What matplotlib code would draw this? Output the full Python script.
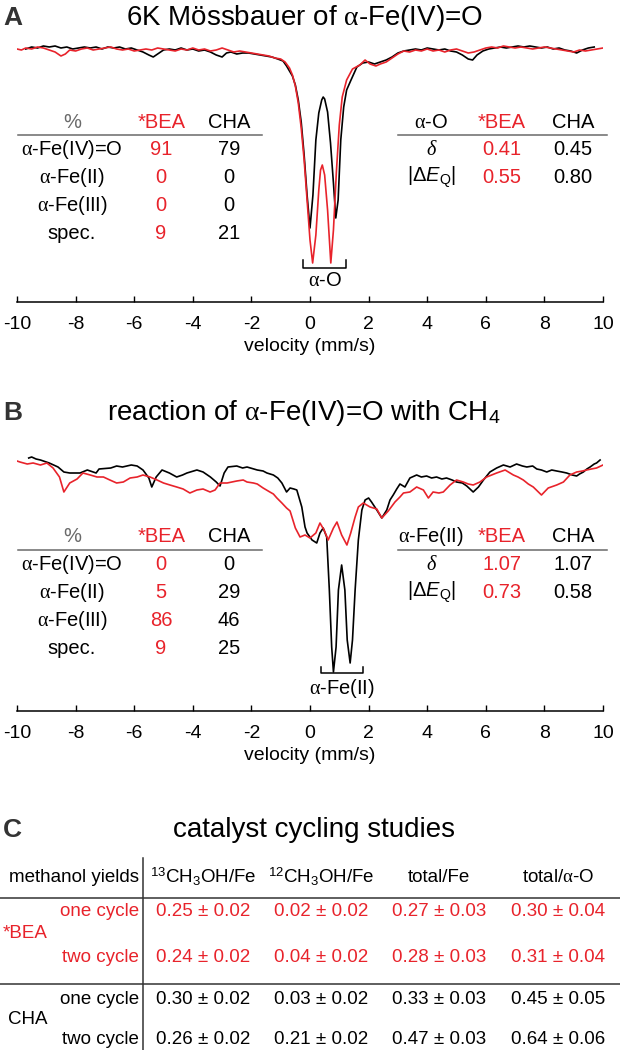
import matplotlib
matplotlib.use('Agg')
import matplotlib.pyplot as plt
from matplotlib.lines import Line2D

# --- data --------------------------------------------------------------
# panel A: 6K Moessbauer, velocity (mm/s) vs relative transmission
a_v_cha = [-9.7, -9.5, -9.3, -9.1, -8.9, -8.7, -8.5, -8.3, -8.1, -7.9, -7.7, -7.5, -7.3, -7.1,
           -6.9, -6.7, -6.5, -6.3, -6.1, -5.9, -5.7, -5.5, -5.35, -5.2, -5.0, -4.8, -4.6, -4.4,
           -4.2, -4.0, -3.8, -3.6, -3.4, -3.2, -3.0, -2.85, -2.7, -2.5, -2.3, -2.1, -1.9, -1.7,
           -1.5, -1.3, -1.1, -0.92, -0.8, -0.7, -0.6, -0.5, -0.4, -0.3, -0.2, -0.1, 0.0, 0.1,
           0.2, 0.3, 0.4, 0.45, 0.5, 0.6, 0.7, 0.8, 0.88, 0.96, 1.05, 1.15, 1.25, 1.4, 1.6, 1.8,
           2.0, 2.2, 2.4, 2.6, 2.8, 3.0, 3.2, 3.4, 3.6, 3.8, 4.0, 4.2, 4.4, 4.6, 4.8, 5.0, 5.2,
           5.4, 5.55, 5.7, 5.9, 6.1, 6.3, 6.5, 6.7, 6.9, 7.1, 7.3, 7.5, 7.7, 7.9, 8.1, 8.3, 8.5,
           8.7, 8.9, 9.1, 9.3, 9.5, 9.7]
a_t_cha = [1.001, 1.003, 1.002, 1.004, 1.003, 1.004, 1.002, 1.003, 1.001, 1.002, 1.003, 1.002,
           1.003, 1.001, 1.003, 1.002, 1.003, 1.001, 1.002, 1.000, 0.998, 0.995, 0.993, 0.996,
           1.000, 1.001, 1.000, 1.002, 1.000, 1.001, 0.999, 1.000, 0.998, 0.995, 0.993, 0.997,
           0.998, 0.996, 0.997, 0.997, 0.996, 0.995, 0.994, 0.993, 0.991, 0.989, 0.984, 0.979,
           0.974, 0.965, 0.950, 0.928, 0.895, 0.855, 0.822, 0.855, 0.910, 0.937, 0.950, 0.953,
           0.951, 0.938, 0.907, 0.867, 0.832, 0.850, 0.910, 0.943, 0.960, 0.970, 0.983, 0.987,
           0.988, 0.986, 0.988, 0.990, 0.993, 0.997, 0.999, 1.000, 1.001, 1.000, 1.002, 1.001,
           1.000, 1.001, 0.999, 0.998, 0.995, 0.991, 0.990, 0.995, 0.999, 1.001, 1.002, 1.003,
           1.002, 1.003, 1.004, 1.003, 1.004, 1.003, 1.002, 1.003, 1.001, 1.002, 1.000, 0.999,
           0.997, 1.000, 1.002, 1.003]
a_v_bea = [-10.0, -9.85, -9.7, -9.5, -9.3, -9.1, -8.9, -8.7, -8.5, -8.35, -8.2, -8.0, -7.8, -7.6,
           -7.4, -7.2, -7.0, -6.8, -6.6, -6.4, -6.2, -6.0, -5.8, -5.6, -5.4, -5.2, -5.0, -4.8,
           -4.6, -4.4, -4.2, -4.0, -3.8, -3.6, -3.4, -3.2, -3.0, -2.8, -2.6, -2.4, -2.2, -2.0,
           -1.8, -1.6, -1.4, -1.2, -1.0, -0.85, -0.7, -0.6, -0.5, -0.4, -0.3, -0.2, -0.1, 0.0,
           0.09, 0.2, 0.3, 0.36, 0.42, 0.5, 0.6, 0.71, 0.8, 0.9, 1.0, 1.1, 1.25, 1.45, 1.7, 1.88,
           2.05, 2.25, 2.4, 2.6, 2.8, 3.0, 3.2, 3.4, 3.6, 3.8, 4.0, 4.2, 4.4, 4.6, 4.8, 5.0, 5.2,
           5.4, 5.6, 5.8, 6.0, 6.2, 6.4, 6.6, 6.8, 7.0, 7.2, 7.4, 7.6, 7.8, 8.0, 8.2, 8.4, 8.6,
           8.8, 9.0, 9.2, 9.4, 9.6, 9.8, 10.0]
a_t_bea = [1.001, 1.000, 1.002, 1.001, 1.003, 1.002, 1.000, 0.998, 0.994, 0.996, 1.000, 0.999,
           1.001, 1.002, 1.000, 1.001, 1.002, 1.003, 1.001, 1.000, 1.001, 0.999, 1.000, 1.001,
           1.000, 1.002, 1.001, 1.000, 0.999, 1.001, 1.000, 1.002, 1.000, 1.001, 0.999, 1.000,
           1.002, 1.000, 0.998, 0.999, 0.998, 0.997, 0.996, 0.995, 0.994, 0.992, 0.991, 0.988,
           0.982, 0.975, 0.964, 0.947, 0.922, 0.890, 0.850, 0.810, 0.787, 0.815, 0.860, 0.880,
           0.885, 0.875, 0.840, 0.787, 0.820, 0.878, 0.925, 0.953, 0.970, 0.981, 0.985, 0.990,
           0.986, 0.984, 0.986, 0.988, 0.992, 0.996, 0.999, 0.998, 1.000, 0.999, 1.001, 0.999,
           1.000, 0.998, 1.000, 1.001, 0.999, 0.997, 0.998, 1.000, 1.002, 1.003, 1.002, 1.004,
           1.003, 1.002, 1.003, 1.002, 1.001, 1.002, 1.003, 1.002, 1.001, 1.000, 0.999, 0.998,
           1.000, 0.999, 1.000, 1.001, 1.002]

# panel B: after reaction with CH4
b_v_cha = [-9.6, -9.5, -9.35, -9.2, -8.9, -8.6, -8.4, -8.2, -7.85, -7.6, -7.3, -7.2, -6.8, -6.6,
           -6.4, -6.1, -5.9, -5.7, -5.5, -5.4, -5.25, -5.05, -4.8, -4.55, -4.35, -4.2, -3.86,
           -3.65, -3.4, -3.2, -3.07, -2.93, -2.8, -2.5, -2.3, -2.15, -1.8, -1.6, -1.47, -1.25,
           -1.1, -0.96, -0.8, -0.68, -0.55, -0.45, -0.35, -0.28, -0.17, -0.1, 0.07, 0.23, 0.34,
           0.45, 0.57, 0.66, 0.74, 0.8, 0.89, 0.97, 1.08, 1.19, 1.27, 1.37, 1.45, 1.54, 1.65,
           1.77, 1.88, 2.0, 2.1, 2.28, 2.45, 2.62, 2.73, 2.84, 2.96, 3.07, 3.24, 3.41, 3.64, 3.8,
           3.98, 4.15, 4.32, 4.5, 4.66, 4.85, 5.0, 5.2, 5.35, 5.57, 5.75, 5.92, 6.14, 6.37, 6.6,
           6.83, 7.05, 7.25, 7.4, 7.6, 7.74, 7.9, 8.08, 8.25, 8.42, 8.6, 8.76, 8.95, 9.1, 9.2,
           9.33, 9.45, 9.56, 9.7, 9.78, 9.9]
b_t_cha = [1.002, 1.003, 1.001, 1.000, 0.997, 0.993, 0.988, 0.987, 0.987, 0.990, 0.987, 0.991,
           0.992, 0.994, 0.993, 0.995, 0.994, 0.990, 0.982, 0.973, 0.983, 0.990, 0.987, 0.983,
           0.985, 0.987, 0.990, 0.988, 0.983, 0.978, 0.974, 0.987, 0.993, 0.994, 0.992, 0.993,
           0.990, 0.989, 0.987, 0.985, 0.982, 0.977, 0.968, 0.972, 0.971, 0.970, 0.960, 0.953,
           0.933, 0.927, 0.920, 0.917, 0.927, 0.932, 0.923, 0.870, 0.813, 0.788, 0.813, 0.870,
           0.895, 0.870, 0.820, 0.797, 0.820, 0.870, 0.920, 0.950, 0.960, 0.962, 0.958, 0.950,
           0.942, 0.950, 0.960, 0.965, 0.971, 0.976, 0.973, 0.982, 0.985, 0.983, 0.984, 0.982,
           0.983, 0.981, 0.982, 0.980, 0.978, 0.977, 0.974, 0.968, 0.973, 0.980, 0.988, 0.992,
           0.995, 0.993, 0.996, 0.994, 0.993, 0.994, 0.991, 0.990, 0.988, 0.990, 0.989, 0.988,
           0.987, 0.985, 0.984, 0.986, 0.988, 0.991, 0.993, 0.996, 0.997, 1.000]
b_v_bea = [-10.0, -9.9, -9.65, -9.45, -9.2, -8.98, -8.77, -8.55, -8.4, -8.2, -7.95, -7.75, -7.5,
           -7.27, -7.05, -6.83, -6.6, -6.37, -6.14, -5.9, -5.7, -5.46, -5.22, -5.0, -4.78, -4.55,
           -4.33, -4.1, -3.86, -3.65, -3.41, -3.24, -3.07, -2.83, -2.5, -2.28, -2.15, -1.93,
           -1.8, -1.6, -1.37, -1.25, -1.13, -0.96, -0.8, -0.68, -0.5, -0.34, -0.17, 0.0, 0.2,
           0.34, 0.48, 0.62, 0.8, 0.92, 1.08, 1.26, 1.39, 1.54, 1.65, 1.82, 2.05, 2.28, 2.45,
           2.67, 2.9, 3.07, 3.19, 3.41, 3.64, 3.87, 4.04, 4.2, 4.4, 4.55, 4.78, 5.0, 5.23, 5.4,
           5.57, 5.8, 6.03, 6.37, 6.66, 6.94, 7.1, 7.28, 7.45, 7.62, 7.9, 8.13, 8.42, 8.65, 8.87,
           9.1, 9.3, 9.44, 9.6, 9.78, 10.0]
b_t_bea = [0.999, 0.998, 0.996, 0.997, 0.995, 0.997, 0.992, 0.983, 0.968, 0.977, 0.981, 0.987,
           0.985, 0.983, 0.983, 0.980, 0.977, 0.978, 0.982, 0.983, 0.985, 0.983, 0.980, 0.977,
           0.975, 0.973, 0.971, 0.967, 0.970, 0.971, 0.968, 0.970, 0.977, 0.977, 0.979, 0.980,
           0.978, 0.977, 0.976, 0.972, 0.968, 0.966, 0.962, 0.957, 0.952, 0.949, 0.932, 0.923,
           0.925, 0.922, 0.927, 0.937, 0.930, 0.920, 0.932, 0.938, 0.925, 0.915, 0.927, 0.943,
           0.953, 0.957, 0.953, 0.951, 0.942, 0.949, 0.958, 0.963, 0.967, 0.968, 0.973, 0.970,
           0.962, 0.968, 0.967, 0.968, 0.975, 0.980, 0.978, 0.976, 0.975, 0.978, 0.983, 0.987,
           0.990, 0.985, 0.983, 0.980, 0.976, 0.973, 0.965, 0.972, 0.975, 0.978, 0.985, 0.988,
           0.989, 0.990, 0.991, 0.992, 0.995]

# fit tables
pct_rows = ['$\\alpha$-Fe(IV)=O', '$\\alpha$-Fe(II)', '$\\alpha$-Fe(III)', 'spec.']
a_pct_bea = ['91', '0', '0', '9']
a_pct_cha = ['79', '0', '0', '21']
b_pct_bea = ['0', '5', '86', '9']
b_pct_cha = ['0', '29', '46', '25']
param_rows = ['$\\mathit{\\delta}$', '|Δ$\\mathsf{E}_{\\mathbf{Q}}$|']
a_par_bea = ['0.41', '0.55']
a_par_cha = ['0.45', '0.80']
b_par_bea = ['1.07', '0.73']
b_par_cha = ['1.07', '0.58']

# panel C: methanol yields
c_cols = ['$^{\\mathbf{13}}$CH$_{\\mathbf{3}}$OH/Fe', '$^{\\mathbf{12}}$CH$_{\\mathbf{3}}$OH/Fe',
          'total/Fe', 'total/$\\alpha$-O']
c_cycles = ['one cycle', 'two cycle']
c_bea = [['0.25 ± 0.02', '0.02 ± 0.02', '0.27 ± 0.03', '0.30 ± 0.04'],
         ['0.24 ± 0.02', '0.04 ± 0.02', '0.28 ± 0.03', '0.31 ± 0.04']]
c_cha = [['0.30 ± 0.02', '0.03 ± 0.02', '0.33 ± 0.03', '0.45 ± 0.05'],
         ['0.26 ± 0.02', '0.21 ± 0.02', '0.47 ± 0.03', '0.64 ± 0.06']]

# --- style -------------------------------------------------------------
plt.rcParams['font.family'] = ['Liberation Sans', 'DejaVu Sans']
plt.rcParams['mathtext.fontset'] = 'custom'
plt.rcParams['mathtext.rm'] = 'Liberation Serif'
plt.rcParams['mathtext.it'] = 'Liberation Serif:italic'
plt.rcParams['mathtext.sf'] = 'Liberation Sans:italic'
plt.rcParams['mathtext.bf'] = 'Liberation Sans'  # upright sans for sub/superscripts
plt.rcParams['mathtext.default'] = 'rm'
plt.rcParams['axes.unicode_minus'] = False

RED = '#e8232b'
GREY = '#6a6a6a'
W, H = 620, 1050
TAB = 14.5   # table text size

fig = plt.figure(figsize=(W / 100, H / 100), dpi=100)


def put(x, y, s, size=TAB, color='k', ha='center', **kw):
    fig.text(x / W, 1 - y / H, s, fontsize=size, color=color, ha=ha, va='center', **kw)


def hline(x0, x1, y, color=GREY, lw=1.1):
    fig.add_artist(Line2D([x0 / W, x1 / W], [1 - y / H] * 2, transform=fig.transFigure,
                          color=color, lw=lw))


def vline(x, y0, y1, color='#333333', lw=1.1):
    fig.add_artist(Line2D([x / W] * 2, [1 - y0 / H, 1 - y1 / H], transform=fig.transFigure,
                          color=color, lw=lw))


def bracket(x0, x1, ytop, ybot, label, ylab):
    fig.add_artist(Line2D([x0 / W, x0 / W, x1 / W, x1 / W],
                          [1 - ytop / H, 1 - ybot / H, 1 - ybot / H, 1 - ytop / H],
                          transform=fig.transFigure, color='k', lw=1.1))
    put((x0 + x1) / 2, ylab, label)


def spectrum(top, bottom, v_cha, t_cha, v_bea, t_bea, ylim):
    ax = fig.add_axes([17 / W, 1 - bottom / H, 586 / W, (bottom - top) / H])
    ax.plot(v_cha, t_cha, color='k', lw=1.2)
    ax.plot(v_bea, t_bea, color=RED, lw=1.2)
    ax.set_xlim(-10, 10)
    ax.set_ylim(*ylim)
    ax.set_xticks(range(-10, 11, 2))
    ax.set_yticks([])
    for s in ['top', 'left', 'right']:
        ax.spines[s].set_visible(False)
    ax.spines['bottom'].set_linewidth(1.1)
    ax.tick_params(axis='x', direction='in', length=4, width=1.0, labelsize=14, pad=10)
    ax.set_xlabel('velocity (mm/s)', fontsize=14, labelpad=4)
    ax.patch.set_alpha(0)
    return ax


def pct_table(y0, bea, cha):
    put(72, y0, '%', color=GREY)
    put(162, y0, '*BEA', color=RED)
    put(229, y0, 'CHA')
    hline(18, 262, y0 + 13)
    for i, lab in enumerate(pct_rows):
        y = y0 + 28 + 27.7 * i
        put(72, y, lab)
        put(161, y, bea[i], color=RED)
        put(229, y, cha[i])


def par_table(y0, head, bea, cha):
    put(431, y0, head)
    put(502, y0, '*BEA', color=RED)
    put(573, y0, 'CHA')
    hline(398, 607, y0 + 13)
    for i, lab in enumerate(param_rows):
        y = y0 + 28 + 27.5 * i
        put(432, y, lab)
        put(502, y, bea[i], color=RED)
        put(573, y, cha[i])


def panel_label(x, y, s):
    fig.text(x / W, 1 - y / H, s, fontsize=19, fontweight='bold', color='#333333',
             family=['Liberation Sans Narrow', 'Liberation Sans'], ha='left', va='center')


# --- panel A -----------------------------------------------------------
panel_label(3, 18, 'A')
put(304, 18, '6K Mössbauer of $\\alpha$-Fe(IV)=O', size=20)
spectrum(30, 302, a_v_cha, a_t_cha, a_v_bea, a_t_bea, (0.748, 1.020))
pct_table(122, a_pct_bea, a_pct_cha)
par_table(122, '$\\alpha$-O', a_par_bea, a_par_cha)
bracket(303, 346, 260, 268, '$\\alpha$-O', 281)

# --- panel B -----------------------------------------------------------
panel_label(3, 413, 'B')
put(304, 413, 'reaction of $\\alpha$-Fe(IV)=O with CH$_{\\mathbf{4}}$', size=20)
spectrum(440, 711, b_v_cha, b_t_cha, b_v_bea, b_t_bea, (0.749, 1.020))
pct_table(537, b_pct_bea, b_pct_cha)
par_table(537, '$\\alpha$-Fe(II)', b_par_bea, b_par_cha)
bracket(321, 363, 667, 673, '$\\alpha$-Fe(II)', 688)

# --- panel C -----------------------------------------------------------
panel_label(3, 830, 'C')
put(314, 830, 'catalyst cycling studies', size=20)
col_x = [203, 321, 439, 558]
put(139, 877, 'methanol yields', size=13.5, ha='right')
for x, lab in zip(col_x, c_cols):
    put(x, 877, lab, size=13.5)
hline(0, 620, 898, color='#333333')
hline(0, 620, 984, color='#333333')
vline(143, 858, 1050)

for rows, ys, name, col in [(c_bea, (911, 957), '*BEA', RED), (c_cha, (1000, 1039), 'CHA', 'k')]:
    put(3 if name == '*BEA' else 8, (ys[0] + ys[1]) / 2, name, size=13.5, color=col, ha='left')
    for vals, y, cyc in zip(rows, ys, c_cycles):
        put(139, y, cyc, size=13.5, color=col, ha='right')
        for x, s in zip(col_x, vals):
            put(x, y, s, size=13.5, color=col)

fig.savefig('out.png', dpi=100)
